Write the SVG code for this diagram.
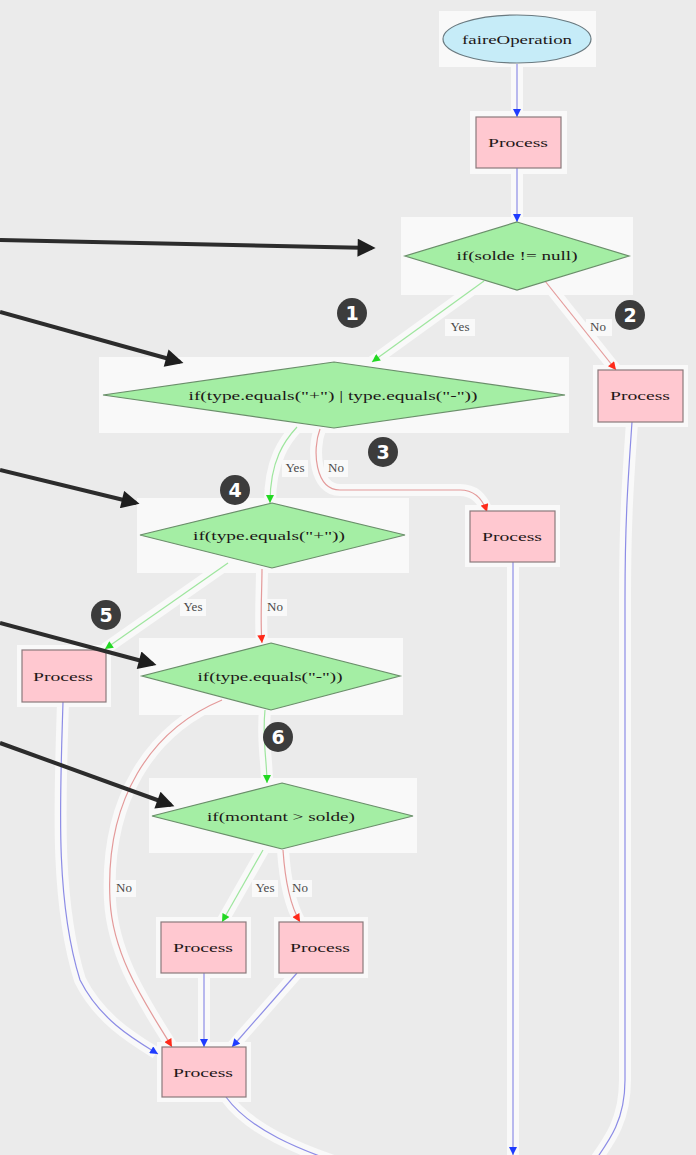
<svg xmlns="http://www.w3.org/2000/svg" width="696" height="1155" viewBox="0 0 696 1155">
<style>
.t{font-family:"Liberation Serif","Times New Roman",serif;font-size:13px;fill:#1e1818;text-anchor:middle}
.lbl{font-family:"Liberation Serif","Times New Roman",serif;font-size:13px;fill:#4a4a4a;text-anchor:middle}
.halo{fill:#f9f9f9}
.hl{fill:none;stroke:#f9f9f9;stroke-width:12}
.box{fill:#ffc8d0;stroke:#8a7a7c;stroke-width:1.2}
.dia{fill:#a4eea4;stroke:#6a8e6a;stroke-width:1.2}
.eb{fill:none;stroke:#8c8ce6;stroke-width:1.2}
.eg{fill:none;stroke:#9ee69e;stroke-width:1.2}
.er{fill:none;stroke:#e49a9a;stroke-width:1.2}
.ann{fill:none;stroke:#2c2c2c;stroke-width:4}
.num{fill:#3c3c3c}
.nt{font-family:"DejaVu Sans",sans-serif;font-weight:bold;font-size:19px;fill:#fff;text-anchor:middle}
</style>
<defs>
<marker id="mb" viewBox="0 0 10 10" refX="10" refY="5" markerWidth="9" markerHeight="8" markerUnits="userSpaceOnUse" orient="auto"><path d="M0,0 L10,5 L0,10 z" fill="#1f3cff"/></marker>
<marker id="mg" viewBox="0 0 10 10" refX="10" refY="5" markerWidth="9" markerHeight="8" markerUnits="userSpaceOnUse" orient="auto"><path d="M0,0 L10,5 L0,10 z" fill="#22d822"/></marker>
<marker id="mr" viewBox="0 0 10 10" refX="10" refY="5" markerWidth="9" markerHeight="8" markerUnits="userSpaceOnUse" orient="auto"><path d="M0,0 L10,5 L0,10 z" fill="#ff2a1a"/></marker>
<marker id="ma" viewBox="0 0 10 10" refX="8" refY="5" markerWidth="20" markerHeight="18" markerUnits="userSpaceOnUse" orient="auto"><path d="M0,0 L10,5 L0,10 z" fill="#1e1e1e"/></marker>
</defs>
<rect width="696" height="1155" fill="#ebebeb"/>

<g id="halos">
<path class="hl" d="M517,60 L517,222 M484,281 L372,362 M545,281 L616,370 M297,427 C285,440 270,460 270,503 M320,429 C312,450 315,490 340,490 L460,490 C475,490 483,500 487,512 M228,563 L105,649 M262,569 C262,590 260,620 262,643 M265,710 C262,740 267,760 267,783 M222,700 C150,730 105,800 110,900 C113,960 150,1010 172,1047 M263,850 L222,922 M283,850 C285,880 290,905 300,922 M63,702 C60,800 55,900 80,980 C100,1020 135,1040 156,1053 M204,973 L204,1047 M297,973 L232,1047 M226,1097 C250,1130 300,1150 345,1165 M513,562 L513,1160 M632,422 C628,480 625,520 625,600 L625,1080 C625,1120 610,1140 592,1165"/>
<rect class="halo" x="439" y="11" width="157" height="56"/>
<rect class="halo" x="470" y="111" width="97" height="63"/>
<rect class="halo" x="401" y="217" width="232" height="78"/>
<rect class="halo" x="99" y="357" width="470" height="76"/>
<rect class="halo" x="593" y="365" width="95" height="62"/>
<rect class="halo" x="465" y="505" width="95" height="62"/>
<rect class="halo" x="137" y="498" width="272" height="75"/>
<rect class="halo" x="17" y="645" width="94" height="62"/>
<rect class="halo" x="139" y="638" width="264" height="77"/>
<rect class="halo" x="149" y="778" width="268" height="75"/>
<rect class="halo" x="156" y="917" width="95" height="61"/>
<rect class="halo" x="274" y="917" width="94" height="61"/>
<rect class="halo" x="157" y="1042" width="94" height="60"/>
<rect class="halo" x="445" y="319" width="30" height="17"/>
<rect class="halo" x="586" y="319" width="26" height="17"/>
<rect class="halo" x="282" y="460" width="26" height="17"/>
<rect class="halo" x="324" y="460" width="24" height="17"/>
<rect class="halo" x="180" y="599" width="26" height="17"/>
<rect class="halo" x="263" y="599" width="24" height="17"/>
<rect class="halo" x="112" y="880" width="24" height="17"/>
<rect class="halo" x="252" y="880" width="26" height="17"/>
<rect class="halo" x="288" y="880" width="24" height="17"/>
</g>

<g id="connectors">
<path class="eb" d="M517,64 L517,117" marker-end="url(#mb)"/>
<path class="eb" d="M517,168 L517,222" marker-end="url(#mb)"/>
<path class="eg" d="M484,281 L372,362" marker-end="url(#mg)"/>
<text class="lbl" x="460" y="331">Yes</text>
<path class="er" d="M545,281 L616,370" marker-end="url(#mr)"/>
<text class="lbl" x="598" y="331">No</text>
<path class="eg" d="M297,427 C285,440 270,460 270,503" marker-end="url(#mg)"/>
<text class="lbl" x="295" y="472">Yes</text>
<path class="er" d="M320,429 C312,450 315,490 340,490 L460,490 C475,490 483,500 487,512" marker-end="url(#mr)"/>
<text class="lbl" x="336" y="472">No</text>
<path class="eg" d="M228,563 L105,649" marker-end="url(#mg)"/>
<text class="lbl" x="193" y="611">Yes</text>
<path class="er" d="M262,569 C262,590 260,620 262,643" marker-end="url(#mr)"/>
<text class="lbl" x="275" y="611">No</text>
<path class="eg" d="M265,710 C262,740 267,760 267,783" marker-end="url(#mg)"/>
<path class="er" d="M222,700 C150,730 105,800 110,900 C113,960 150,1010 172,1047" marker-end="url(#mr)"/>
<text class="lbl" x="124" y="892">No</text>
<path class="eg" d="M263,850 L222,922" marker-end="url(#mg)"/>
<text class="lbl" x="265" y="892">Yes</text>
<path class="er" d="M283,850 C285,880 290,905 300,922" marker-end="url(#mr)"/>
<text class="lbl" x="300" y="892">No</text>
<path class="eb" d="M63,702 C60,800 55,900 80,980 C100,1020 135,1040 158,1054" marker-end="url(#mb)"/>
<path class="eb" d="M204,973 L204,1047" marker-end="url(#mb)"/>
<path class="eb" d="M297,973 L232,1047" marker-end="url(#mb)"/>
<path class="eb" d="M226,1097 C250,1130 300,1150 345,1165"/>
<path class="eb" d="M513,562 L513,1155" marker-end="url(#mb)"/>
<path class="eb" d="M632,422 C628,480 625,520 625,600 L625,1080 C625,1120 610,1140 592,1165"/>
</g>

<g id="n-start">
<ellipse cx="517" cy="39" rx="74" ry="24" fill="#c6ecf8" stroke="#6a7a80" stroke-width="1.2"/>
<text class="t" x="517" y="44" textLength="110" lengthAdjust="spacingAndGlyphs">faireOperation</text>
</g>
<g id="n-proc1">
<rect class="box" x="476" y="117" width="85" height="51"/>
<text class="t" x="518" y="147" textLength="60" lengthAdjust="spacingAndGlyphs">Process</text>
</g>
<g id="n-if-solde">
<polygon class="dia" points="517,222 629,256 517,290 405,256"/>
<text class="t" x="517" y="260" textLength="121" lengthAdjust="spacingAndGlyphs">if(solde != null)</text>
</g>
<g id="n-if-type-or">
<polygon class="dia" points="334,362 565,395 334,428 103,395"/>
<text class="t" x="333" y="400" textLength="289" lengthAdjust="spacingAndGlyphs">if(type.equals("+") | type.equals("-"))</text>
</g>
<g id="n-proc-nosolde">
<rect class="box" x="598" y="370" width="85" height="52"/>
<text class="t" x="640" y="400" textLength="60" lengthAdjust="spacingAndGlyphs">Process</text>
</g>
<g id="n-proc-notype">
<rect class="box" x="470" y="511" width="85" height="51"/>
<text class="t" x="512" y="541" textLength="60" lengthAdjust="spacingAndGlyphs">Process</text>
</g>
<g id="n-if-plus">
<polygon class="dia" points="272,503 405,535 272,568 140,535"/>
<text class="t" x="269" y="540" textLength="152" lengthAdjust="spacingAndGlyphs">if(type.equals("+"))</text>
</g>
<g id="n-proc-plus">
<rect class="box" x="22" y="650" width="84" height="52"/>
<text class="t" x="63" y="681" textLength="60" lengthAdjust="spacingAndGlyphs">Process</text>
</g>
<g id="n-if-minus">
<polygon class="dia" points="271,643 400,676 271,710 142,676"/>
<text class="t" x="270" y="681" textLength="145" lengthAdjust="spacingAndGlyphs">if(type.equals("-"))</text>
</g>
<g id="n-if-montant">
<polygon class="dia" points="282,783 413,816 282,849 152,816"/>
<text class="t" x="281" y="821" textLength="148" lengthAdjust="spacingAndGlyphs">if(montant &gt; solde)</text>
</g>
<g id="n-proc-yes">
<rect class="box" x="161" y="922" width="85" height="51"/>
<text class="t" x="203" y="952" textLength="60" lengthAdjust="spacingAndGlyphs">Process</text>
</g>
<g id="n-proc-no">
<rect class="box" x="279" y="922" width="84" height="51"/>
<text class="t" x="320" y="952" textLength="60" lengthAdjust="spacingAndGlyphs">Process</text>
</g>
<g id="n-proc-merge">
<rect class="box" x="162" y="1047" width="84" height="50"/>
<text class="t" x="203" y="1077" textLength="60" lengthAdjust="spacingAndGlyphs">Process</text>
</g>

<g id="annotations">
<path class="ann" d="M0,240 L372,248" stroke="#111" marker-end="url(#ma)"/>
<path class="ann" d="M0,312 L180,362" marker-end="url(#ma)"/>
<path class="ann" d="M0,470 L136,503" marker-end="url(#ma)"/>
<path class="ann" d="M0,623 L153,664" marker-end="url(#ma)"/>
<path class="ann" d="M0,743 L171,805" marker-end="url(#ma)"/>
</g>

<g id="badges">
<circle class="num" cx="352" cy="313" r="15"/><text class="nt" x="352" y="320">1</text>
<circle class="num" cx="630" cy="315" r="15"/><text class="nt" x="630" y="322">2</text>
<circle class="num" cx="383" cy="452" r="15"/><text class="nt" x="383" y="459">3</text>
<circle class="num" cx="235" cy="490" r="15"/><text class="nt" x="235" y="497">4</text>
<circle class="num" cx="106" cy="615" r="15"/><text class="nt" x="106" y="622">5</text>
<circle class="num" cx="278" cy="737" r="15"/><text class="nt" x="278" y="744">6</text>
</g>
</svg>
